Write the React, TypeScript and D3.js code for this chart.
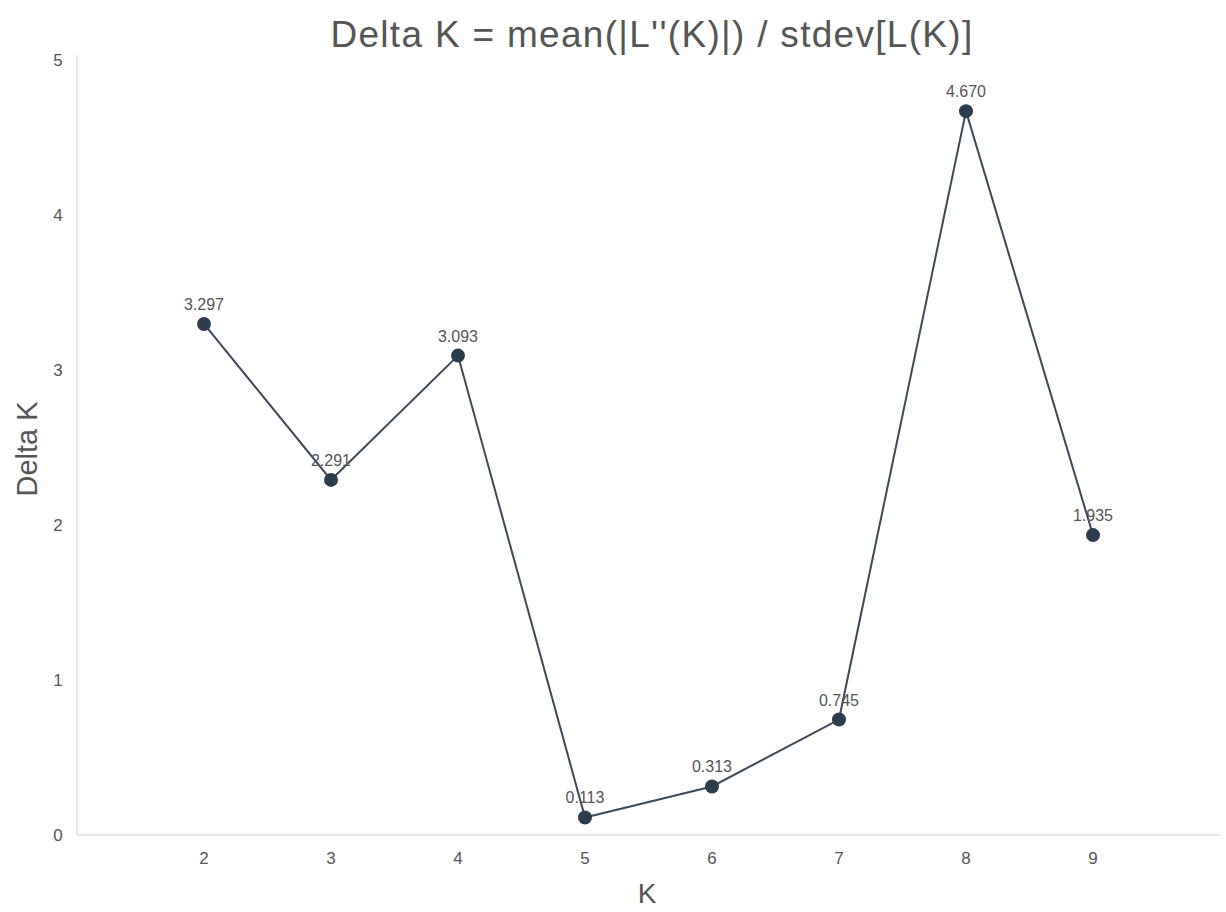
import React from "react";
import * as d3 from "d3";

const kValues = [2, 3, 4, 5, 6, 7, 8, 9];
const deltaK = [3.297, 2.291, 3.093, 0.113, 0.313, 0.745, 4.670, 1.935];
const pointLabels = ["3.297", "2.291", "3.093", "0.113", "0.313", "0.745", "4.670", "1.935"];
const yTicks = [0, 1, 2, 3, 4, 5];
const titleText = "Delta K = mean(|L''(K)|) / stdev[L(K)]";

const W = 1226;
const H = 912;

export default function App() {
  const x = d3.scaleLinear().domain([1, 10]).range([77, 1220]);
  const y = d3.scaleLinear().domain([0, 5]).range([835, 60]);
  const line = d3
    .line<number>()
    .x((_, i) => x(kValues[i]))
    .y((d) => y(d));
  const font = "'Liberation Sans', Arial, sans-serif";
  return (
    <svg
      width={W}
      height={H}
      style={{ position: "absolute", left: 0, top: 0, background: "#fff" }}
      fontFamily={font}
    >
      <text x={652} y={47} textAnchor="middle" fontSize={37} letterSpacing={1.3} fill="#555">
        {titleText}
      </text>
      <line x1={77} x2={77} y1={55} y2={835} stroke="#e8e8e8" strokeWidth={2} />
      <line x1={77} x2={1220} y1={835} y2={835} stroke="#e8e8e8" strokeWidth={2} />
      {yTicks.map((t) => (
        <text key={t} x={58} y={y(t)} dy="0.35em" textAnchor="middle" fontSize={17} fill="#555">
          {t}
        </text>
      ))}
      {kValues.map((k) => (
        <text key={k} x={x(k)} y={858} dy="0.35em" textAnchor="middle" fontSize={17} fill="#555">
          {k}
        </text>
      ))}
      <text x={647} y={893} dy="0.35em" textAnchor="middle" fontSize={28} fill="#555">
        K
      </text>
      <text
        transform={`translate(27,449) rotate(-90)`}
        textAnchor="middle"
        dy="0.35em"
        fontSize={29}
        fill="#555"
      >
        Delta K
      </text>
      <path d={line(deltaK) || ""} fill="none" stroke="#3b4a5a" strokeWidth={2} />
      {deltaK.map((v, i) => (
        <g key={i}>
          <circle cx={x(kValues[i])} cy={y(v)} r={7} fill="#2e3d4d" />
          <text x={x(kValues[i])} y={y(v) - 14} textAnchor="middle" fontSize={16} fill="#555">
            {pointLabels[i]}
          </text>
        </g>
      ))}
    </svg>
  );
}
